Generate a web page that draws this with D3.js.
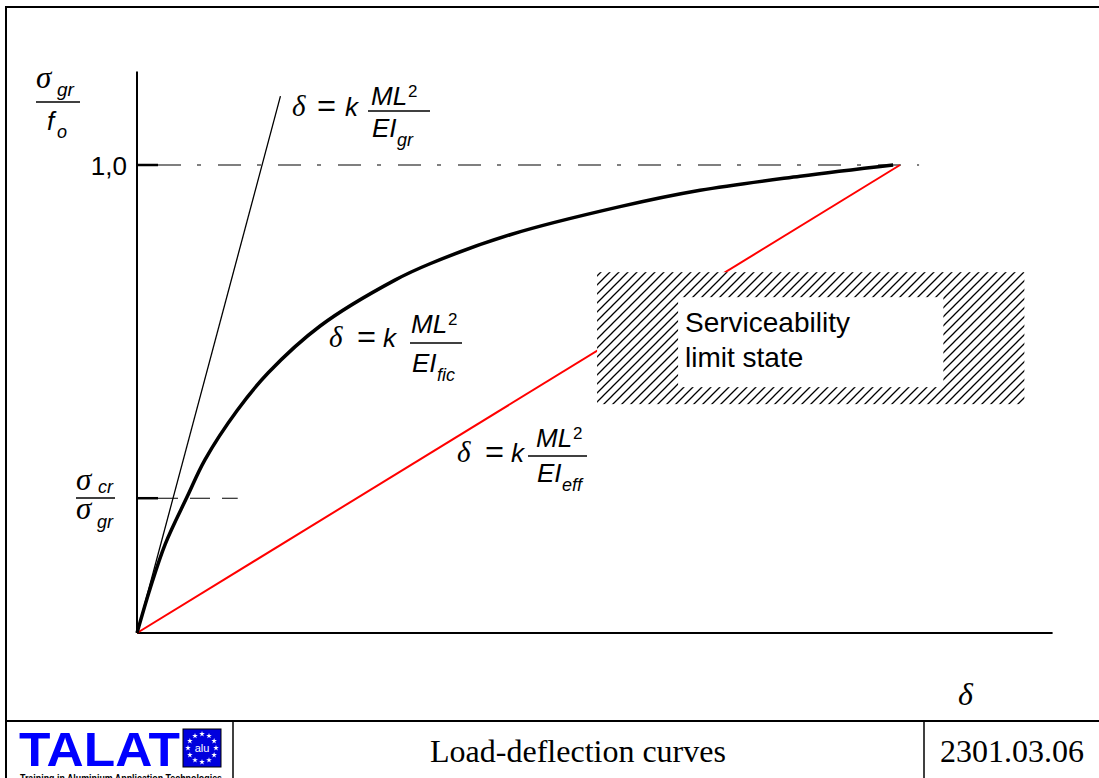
<!DOCTYPE html>
<html>
<head>
<meta charset="utf-8">
<style>
  body { margin: 0; background: #fff; }
  svg { display: block; }
  .sans { font-family: "Liberation Sans", Arial, sans-serif; }
  .serif { font-family: "Liberation Serif", "Times New Roman", serif; }
</style>
</head>
<body>
<svg width="1099" height="778"></svg>
<script src="https://d3js.org/d3.v7.min.js"></script>
<script>
// curve data: deflection (relative) vs load ratio sigma/fo
const ficDelta = [0, 0.017, 0.037, 0.066, 0.089, 0.131, 0.172, 0.240, 0.338, 0.384, 0.489, 0.633, 0.738, 0.869, 0.991];
const ficLoad  = [0, 0.094, 0.190, 0.292, 0.370, 0.475, 0.556, 0.656, 0.754, 0.789, 0.851, 0.911, 0.946, 0.976, 1.000];
const grDelta  = [0, 0.188];
const grLoad   = [0, 1.147];
const effDelta = [0, 1.0];
const effLoad  = [0, 1.0];
const levelValues = [1.0, 0.288];      // 1,0 and sigma_cr/sigma_gr
const levelEnds   = [1.025, 0.132];    // where the reference lines stop (delta)
const serviceDelta = [0.603, 1.163];
const serviceLoad  = [0.489, 0.771];

const svg = d3.select("svg");
const x = d3.scaleLinear().domain([0, 1.2]).range([137, 1052.6]);
const y = d3.scaleLinear().domain([0, 1.2]).range([633, 71.4]);

// hatch pattern
const defs = svg.append("defs");
defs.append("pattern")
    .attr("id", "hatch")
    .attr("patternUnits", "userSpaceOnUse")
    .attr("width", 9).attr("height", 9)
  .append("path")
    .attr("d", "M-2,2 L2,-2 M0,9 L9,0 M7,11 L11,7")
    .attr("stroke", "#000")
    .attr("stroke-width", 1.3);

// frame
svg.append("rect").attr("x", 6).attr("y", 7).attr("width", 1100).attr("height", 800)
    .attr("fill", "none").attr("stroke", "#000").attr("stroke-width", 2);
svg.append("line").attr("x1", 6).attr("x2", 1099).attr("y1", 721).attr("y2", 721)
    .attr("stroke", "#000").attr("stroke-width", 2);
[233, 924].forEach(v => {
  svg.append("line").attr("x1", v).attr("x2", v).attr("y1", 721).attr("y2", 778)
      .attr("stroke", "#000").attr("stroke-width", 1.5);
});

// reference levels
svg.append("line")
    .attr("x1", x(0) + 21).attr("x2", x(levelEnds[0]))
    .attr("y1", y(levelValues[0])).attr("y2", y(levelValues[0]))
    .attr("stroke", "#000").attr("stroke-width", 1.2)
    .attr("stroke-dasharray", "23,16,4,17");
svg.append("line")
    .attr("x1", x(0) + 21).attr("x2", x(levelEnds[1]))
    .attr("y1", y(levelValues[1])).attr("y2", y(levelValues[1]))
    .attr("stroke", "#000").attr("stroke-width", 1.1)
    .attr("stroke-dasharray", "20,12");
levelValues.forEach(v => {
  svg.append("line").attr("x1", x(0)).attr("x2", x(0) + 21)
      .attr("y1", y(v)).attr("y2", y(v))
      .attr("stroke", "#000").attr("stroke-width", 2.5);
});

// axes
svg.append("line").attr("x1", x(0)).attr("x2", x(0)).attr("y1", y(0)).attr("y2", y(1.2))
    .attr("stroke", "#000").attr("stroke-width", 2);
svg.append("line").attr("x1", x(0)).attr("x2", x(1.2)).attr("y1", y(0)).attr("y2", y(0))
    .attr("stroke", "#000").attr("stroke-width", 2);

const line = d3.line().x(d => x(d[0])).y(d => y(d[1]));
const zip = (a, b) => a.map((v, i) => [v, b[i]]);

svg.append("path").datum(zip(effDelta, effLoad)).attr("d", line)
    .attr("fill", "none").attr("stroke", "#ff0000").attr("stroke-width", 2);
svg.append("path").datum(zip(grDelta, grLoad)).attr("d", line)
    .attr("fill", "none").attr("stroke", "#000").attr("stroke-width", 1.3);
svg.append("path").datum(zip(ficDelta, ficLoad)).attr("d", line.curve(d3.curveCatmullRom.alpha(0.5)))
    .attr("fill", "none").attr("stroke", "#000").attr("stroke-width", 3.5)
    .attr("stroke-linejoin", "round");

// serviceability band
const bx0 = x(serviceDelta[0]), bx1 = x(serviceDelta[1]);
const by0 = y(serviceLoad[1]), by1 = y(serviceLoad[0]);
svg.append("rect").attr("x", bx0).attr("y", by0).attr("width", bx1 - bx0).attr("height", by1 - by0)
    .attr("fill", "#fff");
svg.append("rect").attr("x", bx0).attr("y", by0).attr("width", bx1 - bx0).attr("height", by1 - by0)
    .attr("fill", "url(#hatch)");
svg.append("rect").attr("x", bx0 + 81).attr("y", by0 + 25).attr("width", bx1 - bx0 - 162).attr("height", by1 - by0 - 42)
    .attr("fill", "#fff");
svg.append("text").attr("class", "sans").attr("x", 685).attr("y", 332)
    .attr("font-size", 28).text("Serviceability");
svg.append("text").attr("class", "sans").attr("x", 685).attr("y", 367)
    .attr("font-size", 28).text("limit state");

// text helpers
function txt(t, px, py, size, cls, italic) {
  return svg.append("text").attr("class", cls).attr("x", px).attr("y", py)
      .attr("font-size", size).attr("font-style", italic ? "italic" : "normal").text(t);
}
function bar(x1, x2, py) {
  svg.append("line").attr("x1", x1).attr("x2", x2).attr("y1", py).attr("y2", py)
      .attr("stroke", "#000").attr("stroke-width", 1.5);
}
function formula(o) {
  txt("\u03B4", o.x, o.y, 29, "serif", true);
  txt("=", o.eq, o.y, 30, "sans", false).attr("textLength", 19).attr("lengthAdjust", "spacingAndGlyphs");
  txt("k", o.k, o.y, 26, "sans", true);
  txt("ML", o.ml, o.mly, 26, "sans", true);
  txt("2", o.ml + 37, o.mly - 8, 17, "sans", false);
  bar(o.b0, o.b1, o.by);
  txt("EI", o.ml + 1, o.eiy, 26, "sans", true);
  txt(o.sub, o.ml + 26, o.eiy + 9, 18, "sans", true);
}
formula({x: 292, y: 116, eq: 317, k: 345, ml: 371, mly: 105, b0: 368, b1: 430, by: 111, eiy: 137, sub: "gr"});
formula({x: 329, y: 347, eq: 357, k: 383, ml: 411, mly: 333, b0: 410, b1: 462, by: 343, eiy: 372, sub: "fic"});
formula({x: 457, y: 462, eq: 485, k: 511, ml: 536, mly: 447, b0: 528, b1: 587, by: 456, eiy: 482, sub: "eff"});

// axis labels
txt("\u03C3", 36, 88, 31, "serif", true);
txt("gr", 57, 96, 19, "sans", true);
bar(36, 80, 102);
txt("f", 47, 130, 26, "sans", true);
txt("o", 57, 138, 18, "sans", true);

txt("1,0", 127, 175, 26, "sans", false).attr("text-anchor", "end");

txt("\u03C3", 76, 490, 31, "serif", true);
txt("cr", 98, 493, 18, "sans", true);
bar(76, 115, 498);
txt("\u03C3", 76, 519, 31, "serif", true);
txt("gr", 97, 528, 18, "sans", true);

txt("\u03B4", 958, 705, 32, "serif", true);

// footer
txt("Load-deflection curves", 578, 762, 32, "serif", false).attr("text-anchor", "middle");
txt("2301.03.06", 1012, 762, 32, "serif", false).attr("text-anchor", "middle");

svg.append("text").attr("class", "sans").attr("x", 19).attr("y", 766)
    .attr("font-size", 49).attr("font-weight", "bold").attr("fill", "#0000ff")
    .attr("textLength", 161).attr("lengthAdjust", "spacingAndGlyphs").text("TALAT");
svg.append("rect").attr("x", 183).attr("y", 729).attr("width", 38).attr("height", 38)
    .attr("fill", "#0000dd").attr("stroke", "#000").attr("stroke-width", 1);
const star = d3.symbol().type(d3.symbolStar).size(10);
d3.range(12).forEach(i => {
  const a = i / 12 * 2 * Math.PI;
  svg.append("path").attr("d", star)
      .attr("transform", `translate(${202 + 14 * Math.sin(a)},${748 - 14 * Math.cos(a)})`)
      .attr("fill", "#fff");
});
svg.append("text").attr("class", "sans").attr("x", 202).attr("y", 752)
    .attr("font-size", 11).attr("fill", "#fff").attr("text-anchor", "middle").text("alu");
svg.append("text").attr("class", "sans").attr("x", 20).attr("y", 782)
    .attr("font-size", 10).attr("font-weight", "bold")
    .attr("textLength", 202).attr("lengthAdjust", "spacingAndGlyphs")
    .text("Training in Aluminium Application Technologies");
</script>
</body>
</html>
